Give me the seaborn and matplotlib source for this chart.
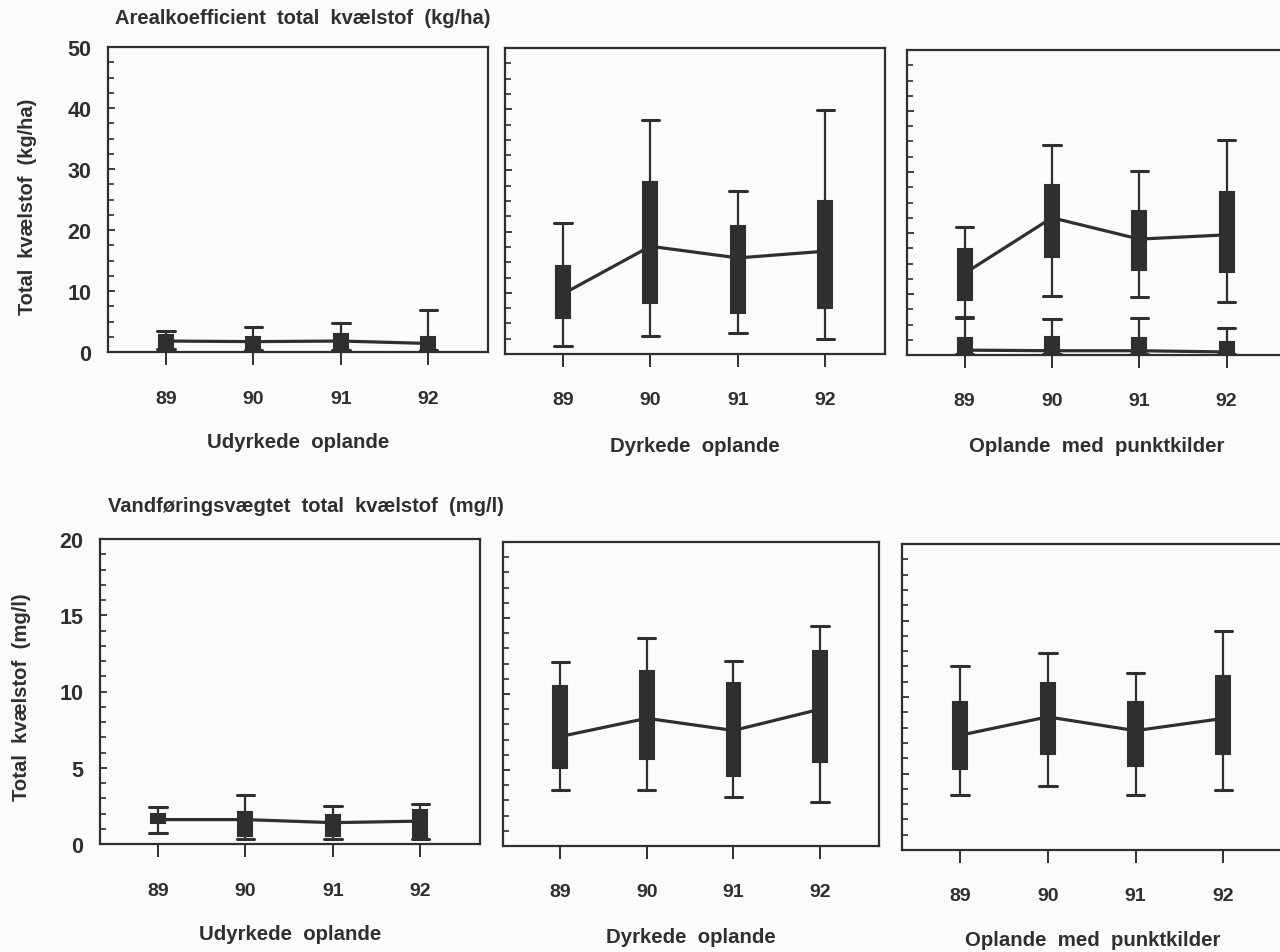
import numpy as np
import pandas as pd
import matplotlib
matplotlib.use("Agg")
import matplotlib.pyplot as plt
import seaborn as sns
from matplotlib.ticker import MultipleLocator

# ---------------- data ----------------
years = ["89", "90", "91", "92"]

# Top row: Arealkoefficient total kvaelstof (kg/ha)
udyrk_kg_low = [0.5, 0.4, 0.4, 0.3]
udyrk_kg_q1 = [0.9, 0.7, 0.7, 0.5]
udyrk_kg_med = [1.8, 1.7, 1.8, 1.4]
udyrk_kg_q3 = [2.8, 2.5, 2.9, 2.5]
udyrk_kg_high = [3.5, 4.1, 4.8, 6.9]

dyrk_kg_low = [1.3, 2.9, 3.4, 2.5]
dyrk_kg_q1 = [5.9, 8.3, 6.7, 7.5]
dyrk_kg_med = [9.8, 17.6, 15.7, 16.8]
dyrk_kg_q3 = [14.4, 28.1, 20.9, 25.0]
dyrk_kg_high = [21.4, 38.2, 26.6, 39.9]

punkt_kg_low = [6.3, 9.7, 9.5, 8.7]
punkt_kg_q1 = [9.0, 16.1, 13.9, 13.6]
punkt_kg_med = [13.4, 22.5, 19.0, 19.7]
punkt_kg_q3 = [17.4, 27.9, 23.6, 26.7]
punkt_kg_high = [21.0, 34.4, 30.2, 35.2]

punkt2_kg_low = [0.1, 0.1, 0.1, 0.1]
punkt2_kg_q1 = [0.2, 0.2, 0.2, 0.2]
punkt2_kg_med = [0.8, 0.7, 0.7, 0.5]
punkt2_kg_q3 = [2.8, 3.0, 2.8, 2.1]
punkt2_kg_high = [6.0, 5.9, 6.0, 4.4]

# Bottom row: Vandfoeringsvaegtet total kvaelstof (mg/l)
udyrk_mg_low = [0.7, 0.3, 0.3, 0.3]
udyrk_mg_q1 = [1.4, 0.5, 0.5, 0.4]
udyrk_mg_med = [1.6, 1.6, 1.4, 1.5]
udyrk_mg_q3 = [2.0, 2.1, 1.9, 2.2]
udyrk_mg_high = [2.4, 3.2, 2.5, 2.6]

dyrk_mg_low = [3.7, 3.7, 3.2, 2.9]
dyrk_mg_q1 = [5.1, 5.7, 4.6, 5.5]
dyrk_mg_med = [7.2, 8.4, 7.6, 9.0]
dyrk_mg_q3 = [10.5, 11.5, 10.7, 12.8]
dyrk_mg_high = [12.1, 13.7, 12.2, 14.5]

punkt_mg_low = [3.6, 4.2, 3.6, 3.9]
punkt_mg_q1 = [5.3, 6.3, 5.5, 6.3]
punkt_mg_med = [7.5, 8.7, 7.8, 8.6]
punkt_mg_q3 = [9.7, 10.9, 9.7, 11.4]
punkt_mg_high = [12.0, 12.9, 11.6, 14.3]

title_top = "Arealkoefficient  total  kvælstof  (kg/ha)"
title_bottom = "Vandføringsvægtet  total  kvælstof  (mg/l)"
ylabel_top = "Total  kvælstof  (kg/ha)"
ylabel_bottom = "Total  kvælstof  (mg/l)"
group_labels = ["Udyrkede  oplande", "Dyrkede  oplande", "Oplande  med  punktkilder"]

# ---------------- style ----------------
sns.set_theme(style="ticks")
plt.rcParams["font.family"] = ["Liberation Sans", "DejaVu Sans"]
plt.rcParams["font.weight"] = "bold"
DARK = "#2f2f2f"
BG = "#fbfbf9"
W, H = 1280, 953

fig = plt.figure(figsize=(W / 100, H / 100), dpi=100, facecolor=BG)


def rect(l, t, r, b):
    return [l / W, 1 - b / H, (r - l) / W, (b - t) / H]


def stats_df(low, q1, med, q3, high):
    rows = []
    for i, y in enumerate(years):
        for v in (low[i], q1[i], med[i], q3[i], high[i]):
            rows.append((y, v))
    return pd.DataFrame(rows, columns=["year", "value"])


def draw_series(ax, low, q1, med, q3, high):
    df = stats_df(low, q1, med, q3, high)
    sns.boxplot(data=df, x="year", y="value", order=years, whis=(0, 100),
                width=0.16, color=DARK, linecolor=DARK, saturation=1,
                linewidth=1.5, showfliers=False, capwidths=0.2,
                whiskerprops=dict(linewidth=1.6, color=DARK),
                capprops=dict(linewidth=2.2, color=DARK),
                medianprops=dict(color=DARK, linewidth=1),
                ax=ax)
    mdf = pd.DataFrame({"year": years, "median": med})
    sns.pointplot(data=mdf, x="year", y="median", order=years, color=DARK,
                  markers="", linestyles="-", errorbar=None,
                  linewidth=2.3, ax=ax)


def style_axis(ax, ymax, minor, major, show_ylabels):
    ax.set_facecolor(BG)
    ax.set_xlim(-0.66, 3.68)
    ax.set_ylim(0, ymax)
    ax.set_xticks(range(len(years)))
    ax.set_xticklabels(years, fontweight="bold")
    ax.yaxis.set_major_locator(MultipleLocator(major))
    ax.yaxis.set_minor_locator(MultipleLocator(minor))
    ax.tick_params(axis="x", direction="out", length=9, width=1.4,
                   color=DARK, pad=18, labelsize=14, labelcolor=DARK)
    ax.tick_params(axis="y", which="major", direction="in", length=5,
                   width=1.3, color=DARK, pad=12, labelsize=15.5,
                   labelcolor=DARK, labelleft=show_ylabels)
    ax.tick_params(axis="y", which="minor", direction="in", length=4,
                   width=1.2, color=DARK)
    for sp in ax.spines.values():
        sp.set_color(DARK)
        sp.set_linewidth(1.6)
    ax.set_ylabel("")
    ax.set_xlabel("")
    ax.grid(False)


# ---------------- top row ----------------
top_rects = [rect(108, 48, 488, 353), rect(505, 49, 885, 355), rect(907, 51, 1286, 356)]
top_series = [
    [(udyrk_kg_low, udyrk_kg_q1, udyrk_kg_med, udyrk_kg_q3, udyrk_kg_high)],
    [(dyrk_kg_low, dyrk_kg_q1, dyrk_kg_med, dyrk_kg_q3, dyrk_kg_high)],
    [(punkt_kg_low, punkt_kg_q1, punkt_kg_med, punkt_kg_q3, punkt_kg_high),
     (punkt2_kg_low, punkt2_kg_q1, punkt2_kg_med, punkt2_kg_q3, punkt2_kg_high)],
]
top_xlabel_y = [443, 446, 447]
for i, (r, series) in enumerate(zip(top_rects, top_series)):
    ax = fig.add_axes(r)
    for s in series:
        draw_series(ax, *s)
    style_axis(ax, 50, 2.5, 10, i == 0)
    ax.set_xlabel(group_labels[i], fontsize=14.7, color=DARK, va="center",
                  fontweight="bold")
    axb = r[1] * H
    axh = r[3] * H
    ax.xaxis.set_label_coords(0.5, ((H - top_xlabel_y[i]) - axb) / axh)
    if i == 0:
        ax.set_ylabel(ylabel_top, fontsize=14.4, color=DARK, va="center",
                      ha="center", fontweight="bold")
        ax.yaxis.set_label_coords((28 - 108) / 380, (353 - 207) / 305)

# ---------------- bottom row ----------------
bot_rects = [rect(100, 540, 480, 845), rect(503, 543, 879, 847), rect(902, 545, 1283, 851)]
bot_series = [
    (udyrk_mg_low, udyrk_mg_q1, udyrk_mg_med, udyrk_mg_q3, udyrk_mg_high),
    (dyrk_mg_low, dyrk_mg_q1, dyrk_mg_med, dyrk_mg_q3, dyrk_mg_high),
    (punkt_mg_low, punkt_mg_q1, punkt_mg_med, punkt_mg_q3, punkt_mg_high),
]
bot_xlabel_y = [935, 938, 941]
for i, (r, s) in enumerate(zip(bot_rects, bot_series)):
    ax = fig.add_axes(r)
    draw_series(ax, *s)
    style_axis(ax, 20, 1, 5, i == 0)
    ax.set_xlabel(group_labels[i], fontsize=14.7, color=DARK, va="center",
                  fontweight="bold")
    axb = r[1] * H
    axh = r[3] * H
    ax.xaxis.set_label_coords(0.5, ((H - bot_xlabel_y[i]) - axb) / axh)
    if i == 0:
        ax.set_ylabel(ylabel_bottom, fontsize=14.6, color=DARK, va="center",
                      ha="center", fontweight="bold")
        ax.yaxis.set_label_coords((22 - 100) / 380, (845 - 697) / 305)

fig.text(115 / W, 1 - 19 / H, title_top, fontsize=14.5, color=DARK,
         ha="left", va="center", fontweight="bold")
fig.text(108 / W, 1 - 506 / H, title_bottom, fontsize=14.5, color=DARK,
         ha="left", va="center", fontweight="bold")

fig.savefig("out.png", dpi=100, facecolor=BG)
